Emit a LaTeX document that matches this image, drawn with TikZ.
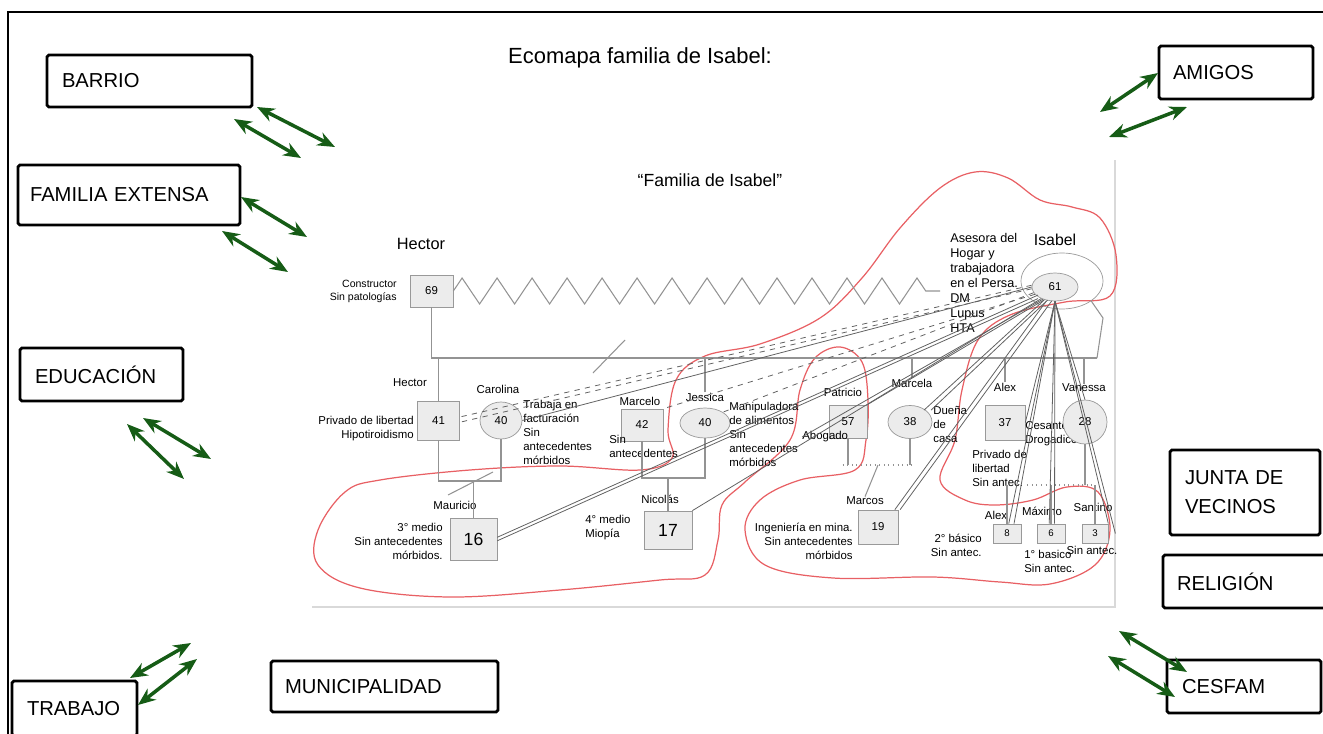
\documentclass[tikz,border=0pt]{standalone}
\usepackage{fontspec}
\setmainfont{Liberation Sans}
\usetikzlibrary{shapes.geometric, arrows.meta, decorations.pathmorphing}
\definecolor{ecogreen}{RGB}{22,92,22}
\definecolor{ecored}{RGB}{232,96,100}

\begin{document}
\begin{tikzpicture}[x=0.02cm, y=-0.02cm]
\tikzset{
  eco/.style={draw, line width=1.6pt, rounded corners=1pt, align=left, inner ysep=0pt, font=\fontsize{11.5}{16.5}\selectfont},
  lazo/.style={draw=ecogreen, line width=2pt, {Stealth[length=10pt,width=8pt]}-{Stealth[length=10pt,width=8pt]}},
  hombre/.style={draw=gray!80, fill=gray!15, rectangle, inner sep=0pt, font=\fontsize{6.5}{7}\selectfont},
  mujer/.style={draw=gray!80, fill=gray!15, ellipse, inner sep=0pt, font=\fontsize{6.5}{7}\selectfont},
  nombre/.style={inner sep=0pt, font=\fontsize{6.5}{7}\selectfont},
  dato/.style={inner sep=0pt, font=\fontsize{6.5}{8}\selectfont},
  linea/.style={draw=gray!85, line width=0.6pt},
  vinculo/.style={draw=black!62, line width=0.45pt},
  contorno/.style={draw=ecored, line width=0.7pt},
  panel/.style={draw=gray!30, line width=1pt}
}
\useasboundingbox (0,0) rectangle (1323,734);

\coordinate (f1) at (8,745);
\coordinate (f2) at (8,12);
\coordinate (f3) at (1330,12);
\draw[line width=0.8pt] (f1) -- (f2) -- (f3);

\node[font=\fontsize{12.5}{14}\selectfont] (titulo) at (640,58) {Ecomapa familia de Isabel:};

\node[eco, text width=3.5cm, inner xsep=0.3cm, minimum height=1.04cm] (barrio) at (149.5,81) {BARRIO};
\node[eco, text width=3.96cm, inner xsep=0.24cm, minimum height=1.2cm] (extensa) at (129,195) {FAMILIA EXTENSA};
\node[eco, text width=2.66cm, inner xsep=0.3cm, minimum height=1.06cm] (educacion) at (101.5,374.5) {EDUCACIÓN};
\node[eco, text width=1.9cm, inner xsep=0.3cm, minimum height=1.1cm] (trabajo) at (74.5,708.5) {TRABAJO};
\node[eco, text width=3.98cm, inner xsep=0.28cm, minimum height=1.02cm] (municipalidad) at (384.5,686.5) {MUNICIPALIDAD};
\node[eco, text width=2.52cm, inner xsep=0.28cm, minimum height=1.06cm] (amigos) at (1236,72.5) {AMIGOS};
\node[eco, text width=2.4cm, inner xsep=0.3cm, minimum height=1.7cm] (junta) at (1245,492.5) {JUNTA DE\\VECINOS};
\node[eco, text width=2.88cm, inner xsep=0.28cm, minimum height=1.06cm] (religion) at (1249,581.5) {RELIGIÓN};
\node[eco, text width=2.48cm, inner xsep=0.3cm, minimum height=1.06cm] (cesfam) at (1244,686.5) {CESFAM};

\foreach \i/\xa/\ya/\xb/\yb in {1/257/107/335/147, 2/234/119/301/158, 3/241/197/307/237,
  4/222/231/288/272, 5/143/418/211/459, 6/127/424/184/479, 7/130/678/191/643,
  8/138/705/197/659, 9/1158/73/1100/112, 10/1187/107/1109/137,
  11/1119/631/1187/672, 12/1108/656/1175/697}{
  \coordinate (a\i) at (\xa,\ya);
  \coordinate (b\i) at (\xb,\yb);
  \draw[lazo] (a\i) -- (b\i);
}

\coordinate (p1) at (312,607);
\coordinate (p2) at (1115,607);
\coordinate (p3) at (1115,160);
\draw[panel] (p1) -- (p2) -- (p3);

\node[font=\fontsize{10}{12}\selectfont] (familia) at (710,180) {“Familia de Isabel”};

\draw[contorno] plot[smooth cycle, tension=0.6] coordinates {(1065,302) (1110,296) (1116,255) (1100,218)
  (1072,207) (1040,200) (1008,178) (975,172) (940,188) (900,228) (862,278) (820,318) (760,344)
  (705,356) (676,380) (668,430) (672,458) (640,470) (560,466) (470,470) (380,480) (345,492)
  (318,530) (318,565) (360,588) (450,597) (560,590) (660,580) (705,575) (718,540) (722,505)
  (745,482) (790,440) (800,390) (815,358) (840,347) (862,362) (868,400) (866,440) (855,470)
  (800,480) (760,500) (745,530) (765,565) (833,578) (933,577) (1000,582) (1050,584) (1095,565)
  (1110,530) (1098,492) (1067,487) (1033,500) (995,505) (965,500) (940,480) (955,440) (962,390)
  (978,340) (1010,315)};

% abuelos
\node[nombre, font=\fontsize{9.3}{10}\selectfont] (n-hectorp) at (421,244) {Hector};
\node[hombre, minimum width=0.86cm, minimum height=0.64cm] (hectorp) at (431.5,291) {69};
\node[dato, anchor=east, align=right, font=\fontsize{6}{7.5}\selectfont] (i-hectorp) at (397,291) {Constructor\\Sin patologías};
\node[nombre, font=\fontsize{9}{10}\selectfont] (n-isabel) at (1055,240) {Isabel};
\node[draw=gray!80, ellipse, minimum width=1.64cm, minimum height=1.12cm, inner sep=0pt] (anillo) at (1062,281) {};
\node[mujer, minimum width=0.92cm, minimum height=0.56cm] (isabel) at (1055,287) {61};
\node[dato, anchor=north west, align=left, font=\fontsize{7.2}{8.5}\selectfont] (i-isabel) at (950,233) {Asesora del\\Hogar y\\trabajadora\\en el Persa.\\DM\\Lupus\\HTA};

\coordinate (zz) at (940,291);
\draw[linea, decorate, decoration={zigzag, segment length=0.7cm, amplitude=0.26cm}] (hectorp.east) -- (zz);

% hijos
\node[nombre] (n-h41) at (410,383) {Hector};
\node[hombre, minimum width=0.84cm, minimum height=0.78cm] (h41) at (438.5,420.5) {41};
\node[dato, anchor=east, align=right] (i-h41) at (414,429) {Privado de libertad\\Hipotiroidismo};
\node[nombre] (n-carolina) at (498,389) {Carolina};
\node[mujer, minimum width=0.84cm, minimum height=0.74cm] (carolina) at (501,420.5) {40};
\node[dato, anchor=north west, align=left] (i-carolina) at (523,400) {Trabaja en\\facturación\\Sin\\antecedentes\\mórbidos};
\node[nombre] (n-marcelo) at (640,401) {Marcelo};
\node[hombre, minimum width=0.84cm, minimum height=0.64cm] (marcelo) at (642,425) {42};
\node[dato, anchor=north west, align=left] (i-marcelo) at (609,435) {Sin\\antecedentes};
\node[nombre] (n-jessica) at (705,397) {Jessica};
\node[mujer, minimum width=1cm, minimum height=0.6cm] (jessica) at (705,423) {40};
\node[dato, anchor=north west, align=left] (i-jessica) at (729,402) {Manipuladora\\de alimentos\\Sin\\antecedentes\\mórbidos};
\node[nombre] (n-patricio) at (843,392) {Patricio};
\node[hombre, minimum width=0.76cm, minimum height=0.66cm] (patricio) at (848,421.5) {57};
\node[dato, anchor=west] (i-patricio) at (802,437) {Abogado};
\node[nombre] (n-marcela) at (912,383) {Marcela};
\node[mujer, minimum width=0.88cm, minimum height=0.66cm] (marcela) at (910,422) {38};
\node[dato, anchor=north west, align=left] (i-marcela) at (933,406) {Dueña\\de\\casa};
\node[nombre] (n-alex) at (1005,387) {Alex};
\node[hombre, minimum width=0.8cm, minimum height=0.7cm] (alex) at (1005,422.5) {37};
\node[dato, anchor=north west, align=left] (i-alex) at (1025,421) {Cesante\\Drogadicción};
\node[dato, anchor=north west, align=left] (i-alex2) at (972,450) {Privado de\\libertad\\Sin antec.};
\node[nombre] (n-vanessa) at (1084,388) {Vanessa};
\node[mujer, minimum width=0.88cm, minimum height=0.88cm] (vanessa) at (1085,422) {28};

% nietos
\node[nombre] (n-mauricio) at (455,505) {Mauricio};
\node[hombre, minimum width=0.94cm, minimum height=0.84cm, font=\fontsize{10}{11}\selectfont] (mauricio) at (473.5,539) {16};
\node[dato, anchor=east, align=right] (i-mauricio) at (443,541) {3° medio\\Sin antecedentes\\mórbidos.};
\node[nombre] (n-nicolas) at (660,499) {Nicolás};
\node[hombre, minimum width=0.96cm, minimum height=0.76cm, font=\fontsize{10}{11}\selectfont] (nicolas) at (668,530) {17};
\node[dato, anchor=north west, align=left] (i-nicolas) at (585,515) {4° medio\\Miopía};
\node[nombre] (n-marcos) at (865,501) {Marcos};
\node[hombre, minimum width=0.8cm, minimum height=0.68cm] (marcos) at (878,527) {19};
\node[dato, anchor=east, align=right] (i-marcos) at (853,541) {Ingeniería en mina.\\Sin antecedentes\\mórbidos};
\node[nombre] (n-alexj) at (996,515) {Alex};
\node[hombre, minimum width=0.56cm, minimum height=0.38cm, font=\fontsize{5.5}{6}\selectfont] (alexj) at (1007,533.5) {8};
\node[dato, anchor=east, align=right] (i-alexj) at (982,545) {2° básico\\Sin antec.};
\node[nombre] (n-maximo) at (1042,511) {Máximo};
\node[hombre, minimum width=0.56cm, minimum height=0.38cm, font=\fontsize{5.5}{6}\selectfont] (maximo) at (1051,533.5) {6};
\node[dato, anchor=north west, align=left] (i-maximo) at (1024,550) {1° basico\\Sin antec.};
\node[nombre] (n-santino) at (1093,507) {Santino};
\node[hombre, minimum width=0.52cm, minimum height=0.38cm, font=\fontsize{5.5}{6}\selectfont] (santino) at (1095,533.5) {3};
\node[dato] (i-santino) at (1092,550) {Sin antec.};

% estructura familiar
\coordinate (hijos) at (1097,358);
\coordinate (quiebre) at (1103,318);
\draw[linea] (hectorp.south) |- (hijos);
\draw[linea] (anillo.south east) -- (quiebre) -- (hijos);
\draw[linea] (h41.north) -- (h41.north |- hijos);
\foreach \n in {n-jessica, n-marcela, n-alex, n-vanessa}
  \draw[linea] (\n.north) -- (\n.north |- hijos);

\coordinate (u1) at (473.5,481);
\draw[linea] (h41.south) |- (u1) -| (carolina.south);
\draw[linea] (u1) -- (mauricio.north);
\coordinate (s1) at (448,495);
\coordinate (s2) at (493,472);
\draw[linea] (s1) -- (s2);
\coordinate (s3) at (593,373);
\coordinate (s4) at (625,340);
\draw[linea] (s3) -- (s4);

\coordinate (u2) at (668,478);
\draw[linea] (marcelo.south) |- (u2) -| (jessica.south);
\draw[linea] (u2) -- (nicolas.north);

\coordinate (u3) at (878,465);
\draw[linea] (patricio.south) -- (patricio.south |- u3);
\draw[linea] (marcela.south) -- (marcela.south |- u3);
\draw[linea, dotted] ([xshift=-3pt]patricio.south |- u3) -- ([xshift=3pt]marcela.south |- u3);
\draw[linea] (u3) -- (n-marcos.north);

\coordinate (u4) at (1060,485);
\draw[linea, dotted] (i-alex2.east |- u4) -- ([xshift=6pt]vanessa.south |- u4);
\draw[linea] (vanessa.south) -- (vanessa.south |- u4);
\foreach \n in {alexj, maximo, santino}
  \draw[linea] (\n.north |- u4) -- (\n.north);

% vinculos de Isabel
\draw[vinculo, dashed] ([yshift=1pt]isabel.west) -- ([yshift=2pt]h41.east);
\draw[vinculo, dashed] ([yshift=-1pt]isabel.west) -- ([yshift=-1pt]h41.east);
\draw[vinculo] (isabel.west) -- (carolina.east);
\draw[vinculo, dashed] (isabel.200) -- (marcelo.north east);
\draw[vinculo, dashed] (isabel.195) -- (jessica.north east);
\draw[vinculo] ([yshift=1pt]isabel.210) -- ([yshift=1pt]mauricio.east);
\draw[vinculo] ([yshift=-1pt]isabel.210) -- ([yshift=-1pt]mauricio.east);
\draw[vinculo] (isabel.220) -- (nicolas.north east);
\draw[vinculo] (isabel.225) -- (i-patricio.west);
\draw[vinculo] (isabel.230) -- (patricio.north east);
\draw[vinculo] ([xshift=-1pt]isabel.235) -- ([xshift=-1pt]marcela.north east);
\draw[vinculo] ([xshift=1pt]isabel.235) -- ([xshift=3pt]marcela.north east);
\draw[vinculo] ([xshift=-2pt]isabel.250) -- ([xshift=-2pt]marcos.north east);
\draw[vinculo] ([xshift=1pt]isabel.250) -- ([xshift=1pt]marcos.north east);
\draw[vinculo] (isabel.south) -- (alex.east);
\draw[vinculo] (isabel.south) -- ([xshift=1pt]alexj.north);
\draw[vinculo] (isabel.south) -- ([xshift=4pt]alexj.north);
\draw[vinculo] (isabel.south) -- ([xshift=-1pt]maximo.north);
\draw[vinculo] (isabel.south) -- ([xshift=2pt]maximo.north);
\draw[vinculo] (isabel.south) -- (santino.north east);
\draw[vinculo] (isabel.south) -- ([xshift=4pt]santino.east);
\draw[vinculo] (isabel.south) -- (vanessa.north);
\end{tikzpicture}
\end{document}
